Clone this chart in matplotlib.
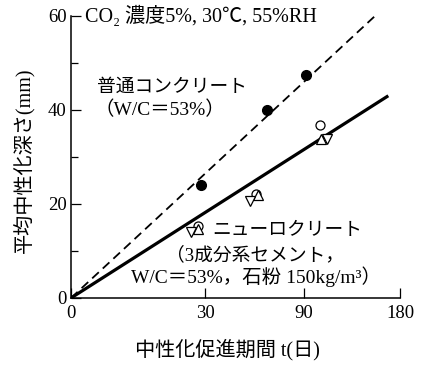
import numpy as np
import matplotlib
matplotlib.use("Agg")
import matplotlib.pyplot as plt

plt.rcParams['font.family'] = ['Liberation Serif', 'Noto Sans CJK JP', 'DejaVu Serif']

# 普通コンクリート (W/C=53%)
normal_t = [28, 64, 92]
normal_d = [24.0, 40.0, 47.4]
normal_fit_t = [0, 154]
normal_fit_d = [0, 60]

# ニューロクリート (3 series)
new_circle_t = [27, 57, 103]
new_circle_d = [15.3, 22.2, 36.8]
new_up_t = [27, 58, 104]
new_up_d = [14.6, 21.9, 33.9]
new_down_t = [24, 53, 109]
new_down_d = [14.0, 20.6, 33.7]
new_fit_t = [0, 166]
new_fit_d = [0, 42.8]

xticks = [0, 30, 90, 180]
yticks = [0, 20, 40, 60]
yminor = [10, 30, 50]

W, H = 433, 367
fig = plt.figure(figsize=(W / 100, H / 100), dpi=100)
ax = fig.add_axes([71 / W, 1 - 298 / H, 329 / W, 282.3 / H])

# time axis is linear in sqrt(t)
fwd = lambda v: np.sqrt(np.clip(v, 0, None))
inv = lambda v: np.asarray(v) ** 2
ax.set_xscale('function', functions=(fwd, inv))
ax.set_xlim(0, 180)
ax.set_ylim(0, 60)

ax.plot(normal_fit_t, normal_fit_d, color='black', lw=1.3, dashes=(5, 3), zorder=2)
ax.plot(new_fit_t, new_fit_d, color='black', lw=2.3, zorder=2)

ax.plot(normal_t, normal_d, 'o', ms=7, mfc='black', mec='black', zorder=4)
ax.plot(new_circle_t, new_circle_d, 'o', ms=6.5, mfc='white', mec='black', mew=0.9, zorder=4)
ax.plot(new_up_t, new_up_d, '^', ms=7, mfc='white', mec='black', mew=0.9, zorder=5)
ax.plot(new_down_t, new_down_d, 'v', ms=7, mfc='white', mec='black', mew=0.9, zorder=5)

for side in ['top', 'right']:
    ax.spines[side].set_visible(False)
for side in ['left', 'bottom']:
    ax.spines[side].set_linewidth(1.1)

ax.set_xticks(xticks)
ax.set_xticklabels([str(v) for v in xticks])
ax.set_yticks(yticks)
ax.set_yticklabels([str(v) for v in yticks])
ax.set_yticks(yminor, minor=True)
ax.xaxis.set_minor_locator(matplotlib.ticker.NullLocator())
ax.tick_params(axis='both', which='major', direction='in', length=7, width=0.9,
               labelsize=13.5, pad=4)
ax.tick_params(axis='y', which='minor', direction='in', length=5, width=0.9)
ax.tick_params(axis='y', which='major', pad=3)
ax.tick_params(axis='x', which='major', pad=5)

def px_text(x, y, s, size=12, **kw):
    fig.text(x / W, 1 - y / H, s, fontsize=size, va='center', **kw)

px_text(85, 16, 'CO₂ 濃度5%, 30℃, 55%RH', size=14.5)
px_text(97, 87, '普通コンクリート', size=13.5)
px_text(95, 110, '（W/C＝53%）', size=14)
px_text(212, 230, 'ニューロクリート', size=13.5)
px_text(166, 255, '（3成分系セメント，', size=13.5)
px_text(131, 277, 'W/C＝53%，石粉 150kg/m³）', size=14)

fig.text(25 / W, 1 - 160 / H, '平均中性化深さ(mm)', fontsize=14.5, rotation=90,
         ha='center', va='center')
fig.text(227 / W, 1 - 350 / H, '中性化促進期間 t(日)', fontsize=14.5,
         ha='center', va='center')

fig.savefig('out.png', dpi=100)
